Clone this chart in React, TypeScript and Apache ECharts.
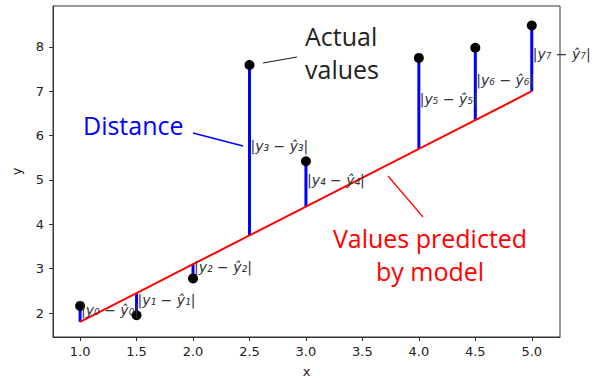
import React, { useEffect, useRef } from "react";
import * as echarts from "echarts";

const xValues = [1.0, 1.5, 2.0, 2.5, 3.0, 4.0, 4.5, 5.0];
const actualValues = [2.16, 1.95, 2.78, 7.59, 5.42, 7.75, 7.98, 8.48];
const predictedValues = [1.8, 2.45, 3.1, 3.75, 4.4, 5.7, 6.35, 7.0];
const residualLabels = [
  "|y₀ − y\u0302₀|",
  "|y₁ − y\u0302₁|",
  "|y₂ − y\u0302₂|",
  "|y₃ − y\u0302₃|",
  "|y₄ − y\u0302₄|",
  "|y₅ − y\u0302₅|",
  "|y₆ − y\u0302₆|",
  "|y₇ − y\u0302₇|",
];
const xTicks = [1.0, 1.5, 2.0, 2.5, 3.0, 3.5, 4.0, 4.5, 5.0];
const yTicks = [2, 3, 4, 5, 6, 7, 8];

const ANNO_FONT = "'Open Sans', 'Noto Sans', sans-serif";
const AXIS_FONT = "'DejaVu Sans', sans-serif";

export default function App() {
  const ref = useRef<HTMLDivElement>(null);

  useEffect(() => {
    if (!ref.current) return;
    const chart = echarts.init(ref.current, null, { renderer: "svg" });

    const residualData = xValues.map((x, i) => [x, actualValues[i], predictedValues[i], i]);

    chart.setOption({
      animation: false,
      backgroundColor: "#ffffff",
      grid: {
        left: 53,
        right: 41,
        top: 6,
        bottom: 46,
        show: true,
        borderColor: "#333",
        borderWidth: 1,
        backgroundColor: "transparent",
      },
      xAxis: {
        type: "value",
        min: 0.76,
        max: 5.25,
        name: "x",
        nameLocation: "middle",
        nameGap: 28,
        nameTextStyle: { fontFamily: AXIS_FONT, fontSize: 13, color: "#222" },
        splitLine: { show: false },
        axisLine: { show: true, lineStyle: { color: "#333", width: 1 } },
        axisTick: { show: true, length: 4, customValues: xTicks, lineStyle: { color: "#333" } },
        axisLabel: {
          customValues: xTicks,
          margin: 8,
          fontFamily: AXIS_FONT,
          fontSize: 13,
          color: "#222",
          formatter: (v: number) => v.toFixed(1),
        },
      },
      yAxis: {
        type: "value",
        min: 1.46,
        max: 8.92,
        name: "y",
        nameLocation: "middle",
        nameGap: 30,
        nameTextStyle: { fontFamily: AXIS_FONT, fontSize: 13, color: "#222" },
        splitLine: { show: false },
        axisLine: { show: true, lineStyle: { color: "#333", width: 1 } },
        axisTick: { show: true, length: 4, customValues: yTicks, lineStyle: { color: "#333" } },
        axisLabel: {
          customValues: yTicks,
          margin: 9,
          fontFamily: AXIS_FONT,
          fontSize: 13,
          color: "#222",
          formatter: (v: number) => String(v),
        },
      },
      series: [
        {
          type: "custom",
          z: 1,
          data: residualData,
          renderItem: (params: any, api: any) => {
            const p1 = api.coord([api.value(0), api.value(1)]);
            const p2 = api.coord([api.value(0), api.value(2)]);
            return {
              type: "line",
              shape: { x1: p1[0], y1: p1[1], x2: p2[0], y2: p2[1] },
              style: { stroke: "#0000ff", lineWidth: 3 },
            };
          },
        },
        {
          type: "line",
          z: 2,
          data: xValues.map((x, i) => [x, predictedValues[i]]),
          showSymbol: false,
          symbol: "none",
          lineStyle: { color: "#ff0000", width: 2 },
        },
        {
          type: "scatter",
          z: 3,
          data: xValues.map((x, i) => [x, actualValues[i]]),
          symbolSize: 10,
          itemStyle: { color: "#000000", opacity: 1 },
        },
        {
          type: "custom",
          z: 4,
          data: residualData,
          renderItem: (params: any, api: any) => {
            const mid = (api.value(1) + api.value(2)) / 2;
            const p = api.coord([api.value(0), mid]);
            const idx = api.value(3);
            return {
              type: "text",
              x: p[0] + 1,
              y: p[1] - 4,
              style: {
                text: residualLabels[idx],
                fill: "#333",
                fontFamily: AXIS_FONT,
                fontStyle: "italic",
                fontSize: 14,
                align: "left",
                verticalAlign: "middle",
              },
            };
          },
        },
      ],
      graphic: [
        {
          type: "text",
          x: 83,
          y: 125,
          style: { text: "Distance", fill: "#0000ff", font: `25px ${ANNO_FONT}`, align: "left", verticalAlign: "middle" },
        },
        {
          type: "line",
          shape: { x1: 193, y1: 133, x2: 243, y2: 146 },
          style: { stroke: "#0000ff", lineWidth: 1.5 },
        },
        {
          type: "text",
          x: 305,
          y: 36,
          style: { text: "Actual", fill: "#222", font: `25px ${ANNO_FONT}`, align: "left", verticalAlign: "middle" },
        },
        {
          type: "text",
          x: 305,
          y: 69,
          style: { text: "values", fill: "#222", font: `25px ${ANNO_FONT}`, align: "left", verticalAlign: "middle" },
        },
        {
          type: "line",
          shape: { x1: 263, y1: 63, x2: 297, y2: 57 },
          style: { stroke: "#222", lineWidth: 1.2 },
        },
        {
          type: "text",
          x: 430,
          y: 238,
          style: { text: "Values predicted", fill: "#ff0000", font: `25px ${ANNO_FONT}`, align: "center", verticalAlign: "middle" },
        },
        {
          type: "text",
          x: 430,
          y: 271,
          style: { text: "by model", fill: "#ff0000", font: `25px ${ANNO_FONT}`, align: "center", verticalAlign: "middle" },
        },
        {
          type: "line",
          shape: { x1: 388, y1: 176, x2: 423, y2: 217 },
          style: { stroke: "#ff0000", lineWidth: 1.2 },
        },
      ],
    });

    return () => chart.dispose();
  }, []);

  return <div ref={ref} style={{ width: 601, height: 383, position: "absolute", left: 0, top: 0 }} />;
}
